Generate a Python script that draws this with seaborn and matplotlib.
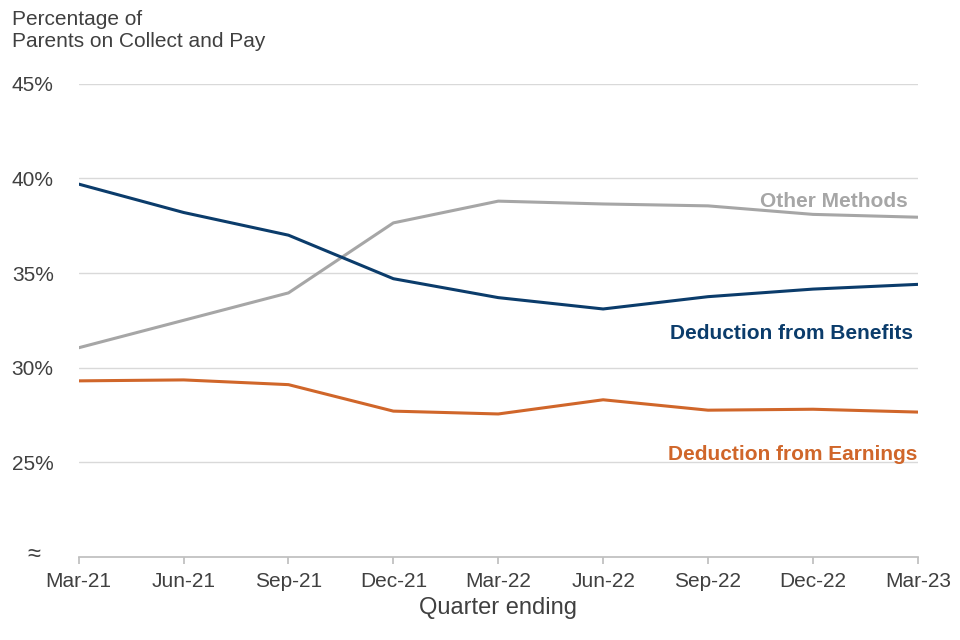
import matplotlib
matplotlib.use("Agg")
import matplotlib.pyplot as plt
import seaborn as sns
import pandas as pd

quarters = ["Mar-21","Jun-21","Sep-21","Dec-21","Mar-22","Jun-22","Sep-22","Dec-22","Mar-23"]
benefits = [39.7, 38.2, 37.0, 34.7, 33.7, 33.1, 33.75, 34.15, 34.4]
other = [31.05, 32.5, 33.95, 37.65, 38.8, 38.65, 38.55, 38.1, 37.95]
earnings = [29.3, 29.35, 29.1, 27.7, 27.55, 28.3, 27.75, 27.8, 27.65]

sns.set_theme(style="white")
plt.rcParams['font.family'] = ['Liberation Sans', 'DejaVu Sans']

fig = plt.figure(figsize=(9.6, 6.4), dpi=100)
ax = fig.add_axes([0.082, 0.13, 0.874, 0.739])
x = list(range(len(quarters)))
cols = {"Deduction from Benefits": "#0b3c6b", "Other Methods": "#a6a6a6", "Deduction from Earnings": "#d0662a"}
for name, vals in [("Other Methods", other), ("Deduction from Earnings", earnings), ("Deduction from Benefits", benefits)]:
    sns.lineplot(x=x, y=vals, ax=ax, color=cols[name], linewidth=2.2)

ax.set_xlim(0, 8)
ax.set_ylim(20, 45)
ax.set_yticks([25, 30, 35, 40, 45])
ax.set_yticklabels([f"{v}%" for v in [25, 30, 35, 40, 45]], fontsize=15, color="#404040")
ax.set_xticks(x)
ax.set_xticklabels(quarters, fontsize=15, color="#404040")
ax.yaxis.grid(True, color="#d9d9d9", linewidth=1)
for s in ["left", "right", "top"]:
    ax.spines[s].set_visible(False)
ax.spines["bottom"].set_color("#bfbfbf")
ax.tick_params(axis="x", bottom=True, length=5, color="#bfbfbf", pad=6)
ax.tick_params(axis="y", left=False, pad=12)
ax.set_xlabel("Quarter ending", fontsize=17, color="#404040")
fig.text(0.012, 0.985, "Percentage of\nParents on Collect and Pay", fontsize=15, color="#404040", va="top", linespacing=1.25)
ax.text(-0.43, 20.1, "≈", fontsize=17, color="#404040", ha="center", va="center")

ax.text(7.9, 38.3, "Other Methods", color="#a6a6a6", fontsize=15, fontweight="bold", ha="right", va="bottom")
ax.text(7.95, 31.3, "Deduction from Benefits", color="#0b3c6b", fontsize=15, fontweight="bold", ha="right", va="bottom")
ax.text(8.0, 24.9, "Deduction from Earnings", color="#d0662a", fontsize=15, fontweight="bold", ha="right", va="bottom")

fig.savefig("out.png", dpi=100)
